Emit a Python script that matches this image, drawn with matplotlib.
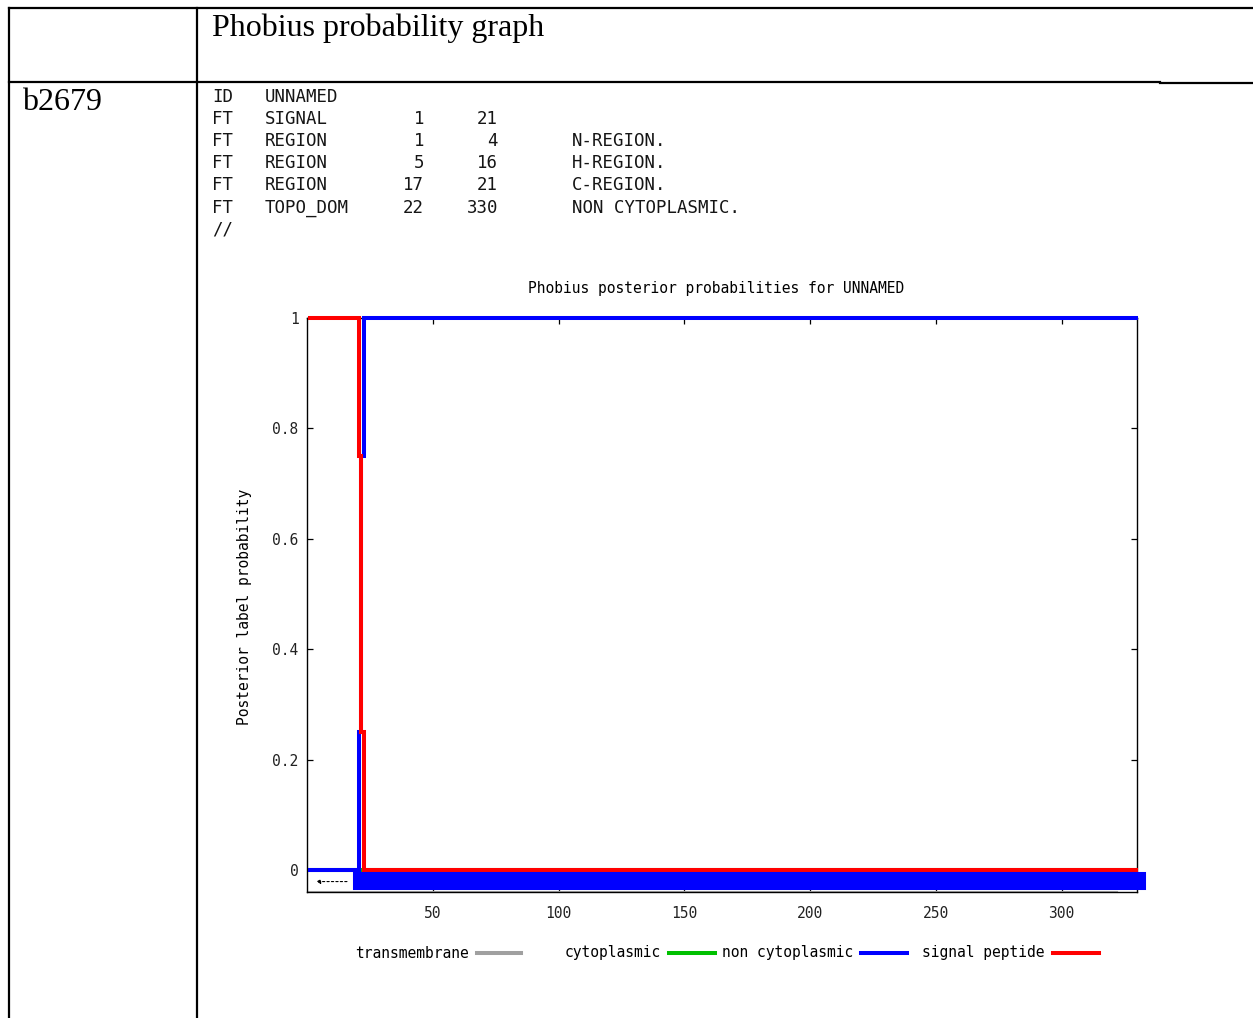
import numpy as np
import matplotlib
matplotlib.use("Agg")
import matplotlib.pyplot as plt
from matplotlib.lines import Line2D

W, H = 1253, 1018
# ---------------- data ----------------
seq_len = 330
positions = np.arange(1, seq_len + 1)
signal_peptide = np.array([1.0] * 20 + [0.75, 0.25] + [0.0] * (seq_len - 22))
non_cytoplasmic = np.array([0.0] * 20 + [0.25, 0.75] + [1.0] * (seq_len - 22))
cytoplasmic = np.zeros(seq_len)
transmembrane = np.zeros(seq_len)

series_names = ["transmembrane", "cytoplasmic", "non cytoplasmic", "signal peptide"]
series_colors = ["#a0a0a0", "#00c000", "#0000ff", "#ff0000"]
series_values = [transmembrane, cytoplasmic, non_cytoplasmic, signal_peptide]

signal_region = (1, 21)
topo_region = (22, 330)

xticks = [50, 100, 150, 200, 250, 300]
yticks = [0, 0.2, 0.4, 0.6, 0.8, 1]
ytick_labels = ["0", "0.2", "0.4", "0.6", "0.8", "1"]

ft_rows = [
    ["ID", "UNNAMED", "", "", ""],
    ["FT", "SIGNAL", "1", "21", ""],
    ["FT", "REGION", "1", "4", "N-REGION."],
    ["FT", "REGION", "5", "16", "H-REGION."],
    ["FT", "REGION", "17", "21", "C-REGION."],
    ["FT", "TOPO_DOM", "22", "330", "NON CYTOPLASMIC."],
    ["//", "", "", "", ""],
]

# ---------------- figure ----------------
fig = plt.figure(figsize=(W / 100, H / 100), dpi=100)
fig.patch.set_facecolor("white")

def fx(px):
    return px / W

def fy(py):
    return 1 - py / H

# table lines
tbl_kw = dict(color="black", lw=1.6, transform=fig.transFigure)
fig.add_artist(Line2D([fx(9), fx(1253)], [fy(8), fy(8)], **tbl_kw))
fig.add_artist(Line2D([fx(9), fx(1160)], [fy(82), fy(82)], **tbl_kw))
fig.add_artist(Line2D([fx(1160), fx(1253)], [fy(83), fy(83)], **tbl_kw))
fig.add_artist(Line2D([fx(9), fx(9)], [fy(8), fy(1018)], **tbl_kw))
fig.add_artist(Line2D([fx(197), fx(197)], [fy(8), fy(1018)], **tbl_kw))

serif = ["Liberation Serif", "DejaVu Serif"]
fig.text(fx(212), fy(28), "Phobius probability graph", family=serif, fontsize=23,
         ha="left", va="center")
fig.text(fx(22), fy(102), "b2679", family=serif, fontsize=23, ha="left", va="center")

mono = ["DejaVu Sans Mono"]
row_y = [97, 119, 141, 163, 185, 208, 230]
for r, yy in zip(ft_rows, row_y):
    kw = dict(family=mono, fontsize=12.5, va="center", color="#151515")
    fig.text(fx(212), fy(yy), r[0], ha="left", **kw)
    fig.text(fx(265), fy(yy), r[1], ha="left", **kw)
    fig.text(fx(424), fy(yy), r[2], ha="right", **kw)
    fig.text(fx(498), fy(yy), r[3], ha="right", **kw)
    fig.text(fx(572), fy(yy), r[4], ha="left", **kw)

# ---------------- chart ----------------
ax_l, ax_r, ax_t, ax_b = 307, 1137, 318, 892
ax = fig.add_axes([fx(ax_l), fy(ax_b), (ax_r - ax_l) / W, (ax_b - ax_t) / H])
ax.set_xlim(0, 330)
ax.set_ylim(-0.0399, 1.0)

lw_line = 2.9
edges = np.concatenate([positions - 0.5, [positions[-1] + 0.5]])
for name, col, vals in zip(series_names, series_colors, series_values):
    ax.stairs(vals, edges, baseline=None, color=col, lw=lw_line, clip_on=False, zorder=3)

# topology bar
ax.plot([topo_region[0], topo_region[1]], [-0.02, -0.02], color="#0000ff", lw=13,
        solid_capstyle="projecting", clip_on=False, zorder=4)
ax.plot([0, 322], [-0.0375, -0.0375], color="#b0b0b0", lw=0.8, clip_on=False, zorder=2)
# signal peptide region marker
ax.annotate("", xy=(signal_region[0] + 1.5, -0.021), xytext=(signal_region[1] - 4, -0.021),
            arrowprops=dict(arrowstyle="-|>", linestyle=(0, (2, 2)), lw=0.8, color="black",
                            mutation_scale=6), zorder=5)

for s in ax.spines.values():
    s.set_linewidth(1.0)
    s.set_color("black")
ax.set_xticks(xticks)
ax.set_yticks(yticks)
ax.set_yticklabels(ytick_labels)
ax.tick_params(direction="in", length=4.5, width=0.9, top=True, right=True,
               labelsize=10.5, colors="black")
ax.tick_params(axis="x", pad=10)
ax.tick_params(axis="y", pad=6)
for lab in ax.get_xticklabels() + ax.get_yticklabels():
    lab.set_family(mono)
    lab.set_color("#222222")

fig.text(fx(716), fy(289), "Phobius posterior probabilities for UNNAMED", family=mono,
         fontsize=10.5, ha="center", va="center", color="black")
fig.text(fx(245), fy(607), "Posterior label probability", family=mono, fontsize=10.5,
         rotation=90, ha="center", va="center", color="black")

# legend (manual, gnuplot style)
leg_line_x = [(477, 521), (669, 715), (861, 907), (1053, 1099)]
leg_y = 953
for name, col, (x0, x1) in zip(series_names, series_colors, leg_line_x):
    fig.text(fx(x0 - 8), fy(leg_y), name, family=mono, fontsize=10.5, ha="right",
             va="center", color="black")
    fig.add_artist(Line2D([fx(x0), fx(x1)], [fy(leg_y), fy(leg_y)], color=col, lw=2.9,
                          transform=fig.transFigure))

fig.savefig("out.png", dpi=100)
